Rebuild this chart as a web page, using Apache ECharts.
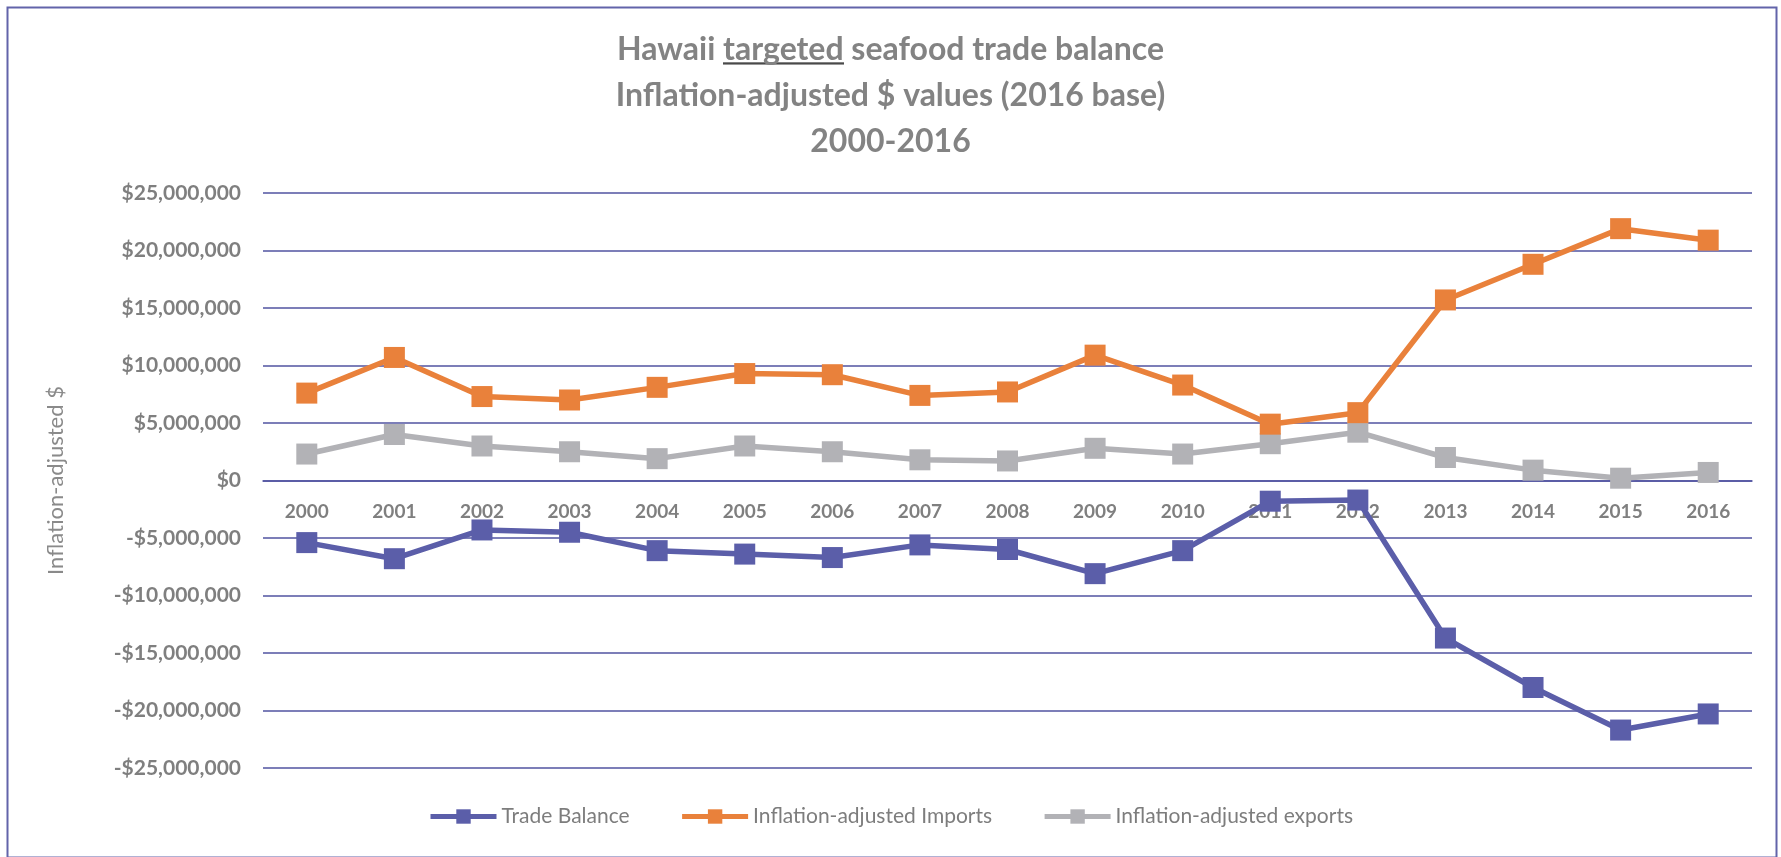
<!DOCTYPE html>
<html>
<head>
<meta charset="utf-8">
<script src="https://cdn.jsdelivr.net/npm/echarts@6/dist/echarts.min.js"></script>
<style>
html,body{margin:0;padding:0;background:#ffffff;}
#chart{width:1781px;height:857px;}
</style>
</head>
<body>
<div id="chart"></div>
<script>
const years = ['2000','2001','2002','2003','2004','2005','2006','2007','2008','2009','2010','2011','2012','2013','2014','2015','2016'];
const tradeBalance = [-5.4,-6.8,-4.3,-4.5,-6.1,-6.4,-6.7,-5.6,-6.0,-8.1,-6.1,-1.8,-1.7,-13.7,-18.0,-21.7,-20.3].map(v=>v*1e6);
const imports = [7.6,10.7,7.3,7.0,8.1,9.3,9.2,7.4,7.7,10.9,8.3,4.9,5.9,15.7,18.8,21.9,20.9].map(v=>v*1e6);
const exportsV = [2.3,4.0,3.0,2.5,1.9,3.0,2.5,1.8,1.7,2.8,2.3,3.2,4.2,2.0,0.9,0.2,0.7].map(v=>v*1e6);
const seriesNames = ['Trade Balance','Inflation-adjusted Imports','Inflation-adjusted exports'];
const yMin = -25000000, yMax = 25000000, yStep = 5000000;

const FONT = 'Lato, "Open Sans", sans-serif';
const GRID = '#5053a0';
const GRID_TOP = 193, GRID_BOTTOM = 89, CHART_H = 857;

// underline image for "targeted"
const ul = document.createElement('canvas');
ul.width = 4; ul.height = 44;
const g = ul.getContext('2d');
g.fillStyle = '#4a4a4a';
g.fillRect(0, 39, 4, 3);

function fmt(v){
  const s = '$' + Math.abs(v).toString().replace(/\B(?=(\d{3})+(?!\d))/g, ',');
  return v < 0 ? '-' + s : s;
}

// x axis sits on the zero line (middle of the symmetric value range)
const plotH = CHART_H - GRID_TOP - GRID_BOTTOM;
const zeroOffset = -plotH * (0 - yMin) / (yMax - yMin);

const chart = echarts.init(document.getElementById('chart'), null, {renderer:'canvas'});
chart.setOption({
  backgroundColor: '#ffffff',
  animation: false,
  title: {
    text: 'Hawaii {u|targeted} seafood trade balance\nInflation-adjusted $ values (2016 base)\n2000-2016',
    left: 'center',
    top: 22,
    textStyle: {
      fontFamily: FONT, fontWeight: 'bold', fontSize: 32, color: '#838383', lineHeight: 46,
      rich: {
        u: {fontFamily: FONT, fontWeight: 'bold', fontSize: 32, color: '#838383', lineHeight: 46,
            backgroundColor: {image: ul}}
      }
    }
  },
  graphic: [{
    type: 'rect', left: 5, top: 5, z: 100, silent: true,
    shape: {width: 1769, height: 850},
    style: {fill: 'none', stroke: '#6264aa', lineWidth: 2}
  }],
  grid: {left: 263, right: 29, top: GRID_TOP, bottom: GRID_BOTTOM, containLabel: false},
  legend: {
    data: seriesNames,
    bottom: 25,
    left: 'center',
    itemWidth: 66,
    itemHeight: 18,
    itemGap: 50,
    lineStyle: {width: 5},
    textStyle: {fontFamily: FONT, fontSize: 21, color: '#7d7d7d'}
  },
  xAxis: {
    type: 'category',
    data: years,
    boundaryGap: true,
    position: 'bottom',
    offset: zeroOffset,
    axisLine: {show: true, onZero: false, lineStyle: {color: GRID, width: 1.5}},
    axisTick: {show: false},
    axisLabel: {fontFamily: FONT, fontSize: 19, fontWeight: 'bold', color: '#7f7f7f', margin: 22}
  },
  yAxis: {
    type: 'value',
    min: yMin, max: yMax, interval: yStep,
    name: 'Inflation-adjusted $',
    nameLocation: 'middle',
    nameGap: 196,
    nameTextStyle: {fontFamily: FONT, fontSize: 22, color: '#8a8a8a'},
    axisLine: {show: false},
    axisTick: {show: false},
    splitLine: {show: true, lineStyle: {color: GRID, width: 1.6}},
    axisLabel: {fontFamily: FONT, fontSize: 21, fontWeight: 'bold', color: '#7f7f7f', margin: 22, formatter: fmt}
  },
  series: [
    {name: seriesNames[0], type: 'line', data: tradeBalance, symbol: 'rect', symbolSize: 21,
     lineStyle: {width: 5.5, color: '#5b5ea9'}, itemStyle: {color: '#5b5ea9'}, z: 3},
    {name: seriesNames[1], type: 'line', data: imports, symbol: 'rect', symbolSize: 21,
     lineStyle: {width: 5.5, color: '#e9813b'}, itemStyle: {color: '#e9813b'}, z: 3},
    {name: seriesNames[2], type: 'line', data: exportsV, symbol: 'rect', symbolSize: 21,
     lineStyle: {width: 5.5, color: '#b2b2b6'}, itemStyle: {color: '#b2b2b6'}, z: 2}
  ]
});
</script>
</body>
</html>
